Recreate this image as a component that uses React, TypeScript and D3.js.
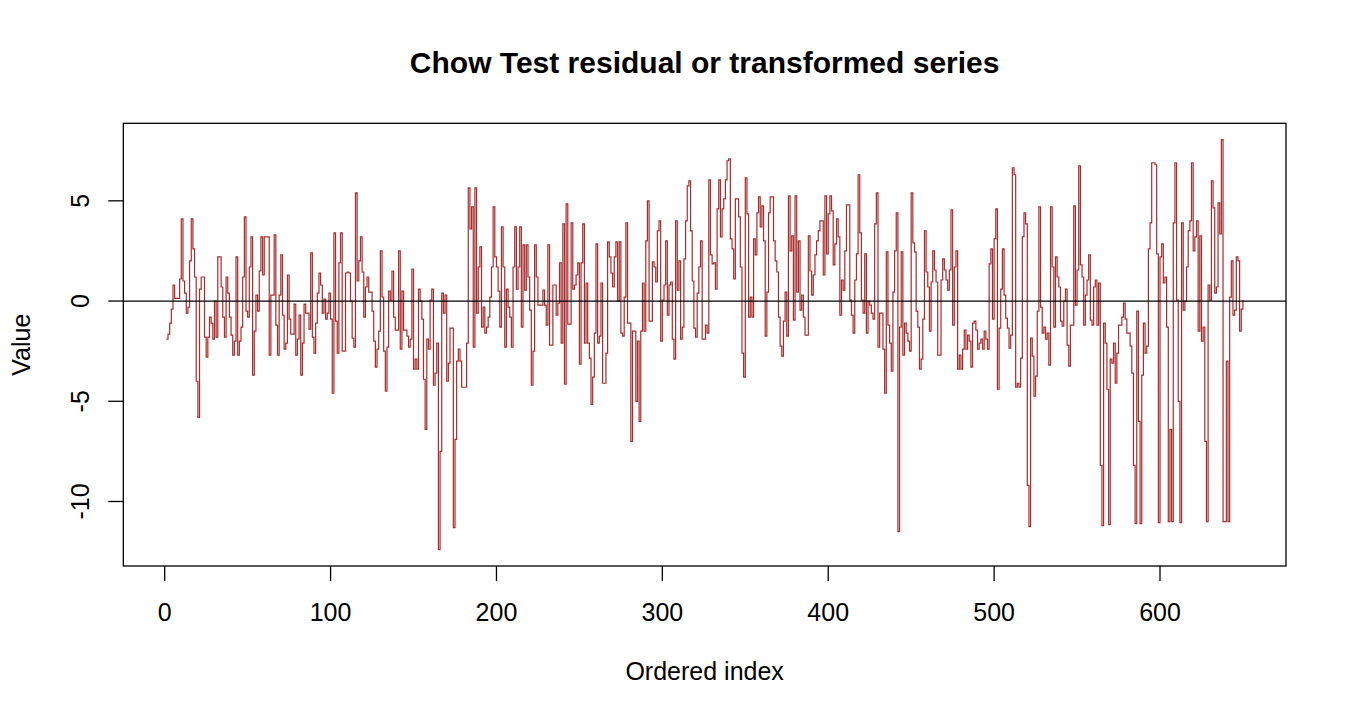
import React from "react";
import * as d3 from "d3";

// Values, in index order (index 1..650)
const seg1: number[] = [-1.9,-1.65,-1.1,-0.4,0.8,0.13,0.13,0.13,1.1,4.1,
1.0,0.4,-0.6,-0.3,2.0,4.1,2.6,1.2,-4.0,-5.8,
0.6,1.2,1.2,-1.8,-2.8,-1.8,-0.8,-1.1,-1.9,0,
-1.8,2.2,2.2,0.7,-0.8,-1.8,1.2,0.4,-0.8,-1.7,
-2.7,-2.0,2.2,-2.7,-2.0,-1.3,1.2,4.2,-0.5,-0.8,
1.7,3.2,-3.7,-1.5,0.3,-0.5,1.5,3.2,1.3,3.2,
3.2,3.2,-2.7,0.3,0.3,3.3,-1.2,-2.7,0.3,2.3,
-0.7,-2.4,-2.1,1.3,-0.9,-1.65,-1.65,-0.15,-2.7,-1.9,
-0.7,-3.7,-2.1,-0.15,-0.6,-0.6,-1.4,2.4,-1.8,-2.6,
-1.1,0.4,1.4,0.8,-0.6,0.1,-0.9,-0.6,0.4,-0.9,
-4.6,3.4,-1.0,-2.6,1.9,3.4];

const seg2: number[] = [-2.5,-2.5,1.4,1.45,1.4,0.0,-1.85,-2.3,5.4,1.0,
2.0,3.2,1.45,-0.8,0.7,1.2,0.45,0.45,-0.5,-2.0,
-3.3,-2.4,-1.5,2.5,0.2,-2.5,-4.5,-2.3,0.5,0.05,
1.5,-0.8,-1.45,-1.45,2.5,-2.4,0.5,-1.45,-1.45,-1.75,
-2.3,-1.9,1.6,-3.4,-2.9,-3.4,0.6,0.0,-0.9,-3.9,
-6.4,-1.9,-2.4,0.05,0.6,-4.2,-3.6,-2.1,-12.4,-7.5,
0.4,-0.6,0.3,-4.0,-3.1,-1.35,-1.35,-11.3,-6.9,-3.0,
-2.4,-3.0,-4.3,-4.3,-4.3,-2.1,5.65,3.6,4.7,-2.3,
5.65,-0.6,1.7,2.7,-1.3,-0.3,-1.6,-1.3,-0.8,0.2,
1.7,4.7,2.2,1.7,0.5,-1.3,3.7,1.7,-2.3,0.6,
-0.3,-0.8,-2.3,1.7,3.7,0.6,1.7,3.7];

const seg3: number[] = [-1.3,2.8,0.55,2.8,1.2,-0.45,-4.2,-2.5,2.8,1.2,
-0.2,-0.2,-0.2,0.55,-0.2,-1.2,2.8,-2.2,-2.2,0.8,
0.8,-0.7,-0.1,1.9,-2.1,3.85,-4.15,4.85,-1.15,-1.15,
3.9,0.6,0.8,1.3,1.9,-3.15,1.9,3.85,-2.1,0.9,
-2.1,-2.85,-5.15,-3.8,-1.6,2.85,-2.1,-1.75,0.9,-4.1,
-4.1,-2.6,2.95,2.2,1.4,0.7,2.2,2.95,0.0,2.95,
-1.6,-1.75,0.2,3.9,-1.1,-1.1,-7.0,-1.5,-1.5,-5.0,
-2.0,-6.0,-1.5,0.9,-1.5,3.0,5.0,-1.0,-1.0,1.95,
1.7,0.95,3.5,4.0,-2.0,0.05,0.8,3.0,-0.7,0.8,
0.95,-1.9,-2.9,4.0,0.55,2.0,-1.9,-1.3,2.1,4.0,
5.75,6.0,3.5,1.0,-1.35,-1.8,0.4,1.7];

const seg4: number[] = [3.0,-1.9,-1.9,-1.2,-1.6,6.05,2.3,1.85,1.9,0.6,
4.6,6.05,3.2,4.6,5.1,6.05,7.0,7.1,3.1,2.6,
1.1,5.1,5.1,4.2,1.7,-2.6,-3.8,6.15,4.35,-0.8,
0.2,-0.8,3.1,2.3,4.4,5.2,3.7,4.75,3.0,-1.75,
0.45,4.4,5.2,5.2,3.0,2.0,1.45,-0.8,-2.25,-2.75,
-1.0,0.45,-1.75,5.25,2.5,3.25,-0.95,5.25,0.45,3.0,
-0.45,0.3,-0.8,-1.7,-1.7,3.25,1.5,0.3,1.3,2.3,
3.0,3.5,4.0,4.0,1.3,5.25,2.35,4.35,5.25,4.5,
1.8,2.85,4.1,3.2,-0.7,1.05,0.55,2.5,4.8,4.8,
0.05,-0.7,-1.6,1.05,2.35,6.3,3.4,0.05,-0.6,2.35,
-1.6,0.0,-0.2,-0.6,-0.9,3.85,5.4,-2.3];

const seg5: number[] = [-0.6,-0.6,-2.4,-4.6,2.45,-1.2,-2.1,-3.5,0.45,2.5,
4.4,-11.5,-1.3,2.45,-2.7,-1.1,-1.6,-2.0,-2.5,5.4,
2.9,2.45,-0.5,-1.3,-3.4,-2.9,-0.9,3.5,1.45,0.7,
-1.5,0.95,2.5,1.55,0.95,-2.7,-2.7,1.05,2.1,1.55,
1.05,0.55,1.55,4.55,-1.2,1.7,2.5,-3.4,-2.7,-3.4,
-2.4,-1.45,-2.4,-1.7,-2.0,-3.3,-1.1,-1.0,-1.45,-2.4,
-2.1,-1.9,-2.4,-1.5,-1.9,-2.4,1.85,2.6,-0.9,3.1,
4.6,-4.4,-1.35,0.6,2.6,0.3,-0.85,-1.35,-2.35,-1.7,
6.65,6.3,-4.3,-4.1,-4.3,-2.85,3.2,4.4,3.85,-9.2,
-11.25,-1.85,-2.75,-4.75,-3.75,-0.5,4.7,-0.3,-1.6,-1.3,
-1.9,-1.6,-3.2,4.7,1.7,-1.3,2.2,1.2];

const seg6: number[] = [0.7,-1.0,-1.25,0.0,0.6,-2.2,-3.25,-1.2,-1.2,4.75,
-0.2,1.55,6.75,1.8,1.2,-1.2,0.3,1.05,2.3,-0.95,
-1.2,0.7,1.05,-1.2,0.9,-8.2,-11.2,-1.1,-2.1,-4.4,
-11.15,-2.9,-3.1,-2.1,-4.1,-2.6,-1.2,-1.2,-0.8,-0.1,
-0.9,-1.6,-1.6,-2.25,-3.6,-8.2,-11.1,-0.5,-6.0,-11.1,
-3.7,-1.1,-2.6,-2.25,2.6,3.9,6.9,6.9,6.8,2.35,
-11.05,2.2,2.85,0.9,1.2,-1.3,-11.0,-6.4,-11.0,3.9,
6.9,0.05,-5.0,-11.05,3.9,-0.45,0.0,1.7,3.5,4.0,
6.9,2.5,3.2,4.0,-1.5,3.25,-2.0,-1.3,-7.0,-11.0,
0.8,0.05,6.0,4.65,0.4,0.7,4.9,3.35,8.05,-11.0,
-11.0,-3.0,-11.0,0.2,2.0,-0.7,-0.45,2.2,2.0,-1.5,
-0.4,0.05];

const values: number[] = [...seg1, ...seg2, ...seg3, ...seg4, ...seg5, ...seg6];

const xTicks = [0, 100, 200, 300, 400, 500, 600];
const yTicks = [-10, -5, 0, 5];

const TITLE = "Chow Test residual or transformed series";
const XLAB = "Ordered index";
const YLAB = "Value";

const W = 1350;
const H = 720;
const box = { left: 123.3, right: 1286, top: 123.3, bottom: 566 };
const FONT = "'Liberation Sans', Arial, sans-serif";

export default function App() {
  const n = values.length;
  const xr = [1, n];
  const xpad = (xr[1] - xr[0]) * 0.04;
  const x = d3.scaleLinear().domain([xr[0] - xpad, xr[1] + xpad]).range([box.left, box.right]);
  const ext = d3.extent(values) as [number, number];
  const ypad = (ext[1] - ext[0]) * 0.04;
  const y = d3.scaleLinear().domain([ext[0] - ypad, ext[1] + ypad]).range([box.bottom, box.top]);

  const line = d3
    .line<number>()
    .x((_, i) => x(i + 1))
    .y((d) => y(d))
    .curve(d3.curveStepAfter);

  const cx = (box.left + box.right) / 2;
  const cy = (box.top + box.bottom) / 2;

  return (
    <svg width={W} height={H} style={{ position: "absolute", left: 0, top: 0, background: "#fff" }} fontFamily={FONT}>
      <defs>
        <clipPath id="plotclip">
          <rect x={box.left} y={box.top} width={box.right - box.left} height={box.bottom - box.top} />
        </clipPath>
      </defs>
      <rect x={0} y={0} width={W} height={H} fill="#fff" />
      <g clipPath="url(#plotclip)">
        <path d={line(values) || ""} fill="none" stroke="#A82C2C" strokeWidth={1.2} />
        <line x1={box.left} x2={box.right} y1={y(0)} y2={y(0)} stroke="#000" strokeWidth={1.3} />
      </g>
      <rect
        x={box.left}
        y={box.top}
        width={box.right - box.left}
        height={box.bottom - box.top}
        fill="none"
        stroke="#000"
        strokeWidth={1.3}
      />
      {xTicks.map((t) => (
        <g key={"x" + t}>
          <line x1={x(t)} x2={x(t)} y1={box.bottom} y2={box.bottom + 15} stroke="#000" strokeWidth={1.3} />
          <text x={x(t)} y={621} textAnchor="middle" fontSize={25} fill="#000">
            {t}
          </text>
        </g>
      ))}
      {yTicks.map((t) => (
        <g key={"y" + t}>
          <line x1={box.left - 15} x2={box.left} y1={y(t)} y2={y(t)} stroke="#000" strokeWidth={1.3} />
          <text
            transform={`translate(88.5,${y(t)}) rotate(-90)`}
            textAnchor="middle"
            fontSize={25}
            fill="#000"
          >
            {t}
          </text>
        </g>
      ))}
      <text x={cx} y={73.3} textAnchor="middle" fontSize={30} fontWeight="bold" fill="#000">
        {TITLE}
      </text>
      <text x={cx} y={680} textAnchor="middle" fontSize={25} fill="#000">
        {XLAB}
      </text>
      <text transform={`translate(30,${cy}) rotate(-90)`} textAnchor="middle" fontSize={25} fill="#000">
        {YLAB}
      </text>
    </svg>
  );
}
